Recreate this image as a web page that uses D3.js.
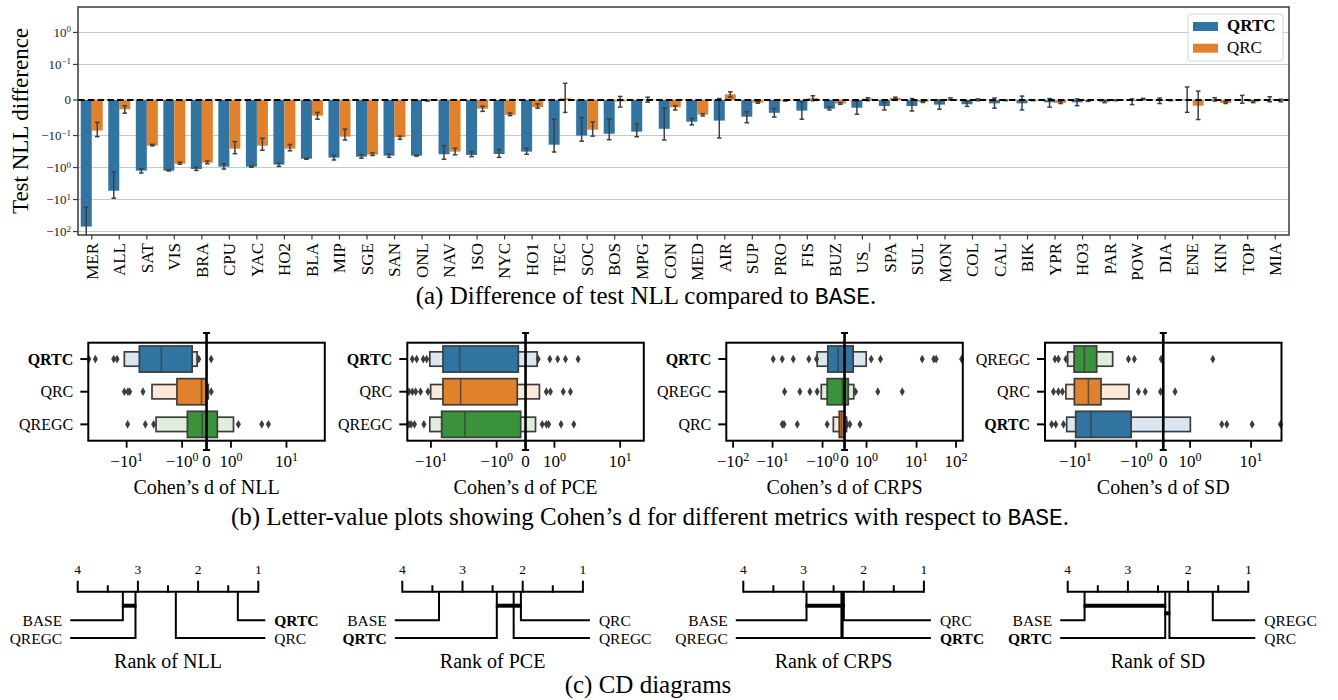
<!DOCTYPE html>
<html><head><meta charset="utf-8">
<script src="https://cdn.jsdelivr.net/npm/d3@7"></script>
<style>
body{margin:0;background:#fff;}
svg{display:block;font-family:"Liberation Serif","Times New Roman",serif;}
</style></head><body>
<svg id="c" width="1338" height="700"></svg>
<script>
// ---------------- DATA ----------------
const topCats = ["MER","ALL","SAT","VIS","BRA","CPU","YAC","HO2","BLA","MIP","SGE","SAN","ONL","NAV","ISO","NYC","HO1","TEC","SOC","BOS","MPG","CON","MED","AIR","SUP","PRO","FIS","BUZ","US_","SPA","SUL","MON","COL","CAL","BIK","YPR","HO3","PAR","POW","DIA","ENE","KIN","TOP","MIA"];
const qrtcDiff = [-70,-5.3,-1.25,-1.25,-1.11,-0.94,-0.94,-0.81,-0.53,-0.49,-0.457,-0.426,-0.426,-0.385,-0.405,-0.377,-0.318,-0.193,-0.100,-0.095,-0.089,-0.081,-0.061,-0.058,-0.047,-0.036,-0.030,-0.0245,-0.0217,-0.017,-0.017,-0.013,-0.012,-0.0094,-0.0094,-0.0066,-0.0066,-0.0047,-0.002,-0.001,0.001,0.0015,-0.001,0.001];
const qrtcLo = [-200,-9.1,-1.48,-1.28,-1.23,-1.11,-0.98,-0.92,-0.55,-0.58,-0.51,-0.48,-0.44,-0.55,-0.457,-0.48,-0.385,-0.327,-0.15,-0.135,-0.109,-0.138,-0.070,-0.119,-0.064,-0.048,-0.054,-0.028,-0.040,-0.028,-0.031,-0.026,-0.018,-0.023,-0.028,-0.020,-0.016,-0.0075,-0.013,-0.010,-0.0347,-0.003,-0.009,-0.005];
const qrtcHi = [-17.4,-1.34,-1.09,-1.17,-0.98,-0.76,-0.89,-0.72,-0.51,-0.42,-0.40,-0.38,-0.41,-0.207,-0.32,-0.27,-0.25,-0.054,-0.050,-0.054,-0.067,-0.023,-0.0515,0.004,-0.033,-0.024,-0.005,-0.020,-0.003,-0.0065,0.004,0.0,-0.0037,0.0056,0.011,0.004,0.003,-0.001,0.003,0.0056,0.0365,0.0065,0.013,0.009];
const qrcDiff = [-0.086,-0.026,-0.207,-0.76,-0.70,-0.257,-0.207,-0.257,-0.044,-0.108,-0.396,-0.113,-0.002,-0.318,-0.0245,-0.042,-0.020,0.0047,-0.0835,-0.004,0.001,-0.0206,-0.041,0.016,-0.0075,-0.002,0.005,-0.010,0.004,0.0056,-0.005,0.003,0.001,-0.001,-0.001,-0.0084,-0.003,-0.001,0.003,-0.001,-0.016,-0.0084,-0.005,-0.002];
const qrcLo = [-0.108,-0.037,-0.21,-0.79,-0.76,-0.369,-0.288,-0.30,-0.054,-0.138,-0.42,-0.131,-0.003,-0.40,-0.032,-0.044,-0.023,-0.035,-0.104,-0.020,-0.006,-0.028,-0.045,0.0084,-0.009,-0.003,-0.002,-0.012,-0.002,0.003,-0.007,0.0,-0.002,-0.002,-0.002,-0.010,-0.004,-0.002,0.001,-0.002,-0.055,-0.010,-0.0075,-0.005];
const qrcHi = [-0.063,-0.016,-0.188,-0.68,-0.63,-0.155,-0.122,-0.19,-0.035,-0.082,-0.35,-0.104,-0.001,-0.25,-0.0177,-0.0366,-0.011,0.047,-0.062,0.010,0.008,-0.016,-0.0385,0.023,-0.005,-0.001,0.012,-0.0075,0.0065,0.008,-0.003,0.006,0.003,0.0,0.0,-0.004,-0.002,0.0,0.0047,0.0,0.025,-0.005,-0.002,0.002];
const topYTicks = [-100,-10,-1,-0.1,0,0.1,1];
const seriesNames = ["QRTC","QRC"];

// letter-value summaries (outer level, inner level = quartile box, median, outliers)
const lvNLL = [
  {m:"QRTC", outer:[-11.0,-0.386], inner:[-5.9,-0.59], med:-2.37, out:[-48,-36.6,-17.1,-14.9,-0.32,0.19]},
  {m:"QRC", outer:[-3.49,0.07], inner:[-1.24,-0.014], med:-0.207, out:[-11,-9.5,-8.8,-5.07,0.19]},
  {m:"QREGC", outer:[-2.95,1.11], inner:[-0.785,0.44], med:-0.179, out:[-9.6,-4.6,-3.26,1.36,3.59,4.73]}
];
const lvPCE = [
  {m:"QRTC", outer:[-10.4,0.40], inner:[-6.56,-0.25], med:-3.66, out:[-19.2,-16.5,-13.1,-11.6,0.437,0.84,1.12,1.47,2.29]},
  {m:"QRC", outer:[-10.1,0.48], inner:[-6.56,-0.287], med:-3.53, out:[-21.6,-19.2,-17.1,-14.4,-11.1,0.72,0.86,1.36,1.75]},
  {m:"QREGC", outer:[-10.4,0.345], inner:[-6.87,-0.17], med:-3.04, out:[-21.6,-20,-17.8,-12.8,0.575,0.72,0.80,1.26,1.97]}
];
const lvCRPS = [
  {m:"QRTC", outer:[-1.28,0.985], inner:[-0.76,0.39], med:-0.29, out:[-9.7,-6.4,-3.85,-1.88,-1.32,1.24,1.9,13.9,27.4,31.4,138]},
  {m:"QREGC", outer:[-1.06,0.42], inner:[-0.79,0.17], med:-0.1, out:[-5.75,-2.84,-1.79,-1.28,0.5,1.68,5.17]},
  {m:"QRC", outer:[-0.51,0.09], inner:[-0.24,-0.03], med:-0.14, out:[-6.4,-5.9,-3.2,-0.79,0.12,0.24,0.7]}
];
const lvSD = [
  {m:"QREGC", outer:[-13.4,-2.45], inner:[-10.5,-4.48], med:-7.13, out:[-21.6,-19,-14.3,-1.35,-1.08,-0.076,2.36]},
  {m:"QRC", outer:[-14.3,-1.32], inner:[-10.4,-3.8], med:-6.12, out:[-22.9,-19,-16.3,-0.925,-0.67,-0.1,0.44]},
  {m:"QRTC", outer:[-13.9,1.01], inner:[-9.9,-1.22], med:-5.55, out:[-24.5,-21,-15.7,3.31,4.0,10.4,30.3]}
];
const lvTicksShort = [-10,-1,0,1,10];
const lvTicksLong = [-100,-10,-1,0,1,10,100];

// CD diagram average ranks and cliques
const cdNLL = [["QRTC",1.34],["QRC",2.37],["QREGC",3.04],["BASE",3.25]];
const cdPCE = [["QRC",2.03],["QREGC",2.15],["QRTC",2.43],["BASE",3.39]];
const cdCRPS = [["QRC",2.33],["QRTC",2.35],["QREGC",2.37],["BASE",2.95]];
const cdSD = [["QREGC",1.59],["QRC",2.31],["QRTC",2.38],["BASE",3.72]];
const cliquesNLL = [["BASE","QREGC"]];
const cliquesPCE = [["QRTC","QRC"]];
const cliquesCRPS = [["BASE","QRC"]];
const cliquesSD = [["BASE","QRTC"],["QRTC","QRC"]];
const rankTicks = [4,3.5,3,2.5,2,1.5,1];

// ---------------- STYLE ----------------
const colMain = {QRTC:"#3274a1", QRC:"#e1812c", QREGC:"#3a923a"};
const colLight = {QRTC:"#dae6f0", QRC:"#fce8d6", QREGC:"#dfeedf"};
const svg = d3.select("#c");
svg.append("rect").attr("width",1338).attr("height",700).attr("fill","#fff");
const MINUS = "\u2212";

function powLabel(sel, v, supSize){
  if (v === 0){ sel.text("0"); return; }
  const e = Math.round(Math.log10(Math.abs(v)));
  sel.append("tspan").text((v<0?MINUS:"")+"10");
  sel.append("tspan").attr("dy","-0.5em").attr("font-size",supSize).text(e<0?MINUS+(-e):String(e));
}

// ---------------- (a) TOP BAR CHART ----------------
const A = {x0:78, x1:1289, y0:7, y1:235};
const topLin = 0.1, topScaleAdj = 1/(1-1/10);
const topT = v => { const s=Math.sign(v), a=Math.abs(v); return a<=topLin ? v/topLin*topScaleAdj : s*(topScaleAdj+Math.log10(a/topLin)); };
const yLin = d3.scaleLinear().domain([-4.219, 2.906]).range([A.y1, A.y0]);
const y = v => yLin(topT(v));
const x = d3.scaleBand().domain(topCats).range([A.x0, A.x1]).padding(0);
const bw = x.bandwidth();

const gA = svg.append("g");
svg.append("clipPath").attr("id","clipA").append("rect")
  .attr("x",A.x0).attr("y",A.y0).attr("width",A.x1-A.x0).attr("height",A.y1-A.y0);

// grid
gA.selectAll("line.grid").data(topYTicks).join("line")
  .attr("x1",A.x0).attr("x2",A.x1).attr("y1",d=>y(d)).attr("y2",d=>y(d))
  .attr("stroke","#c8c8c8").attr("stroke-width",1.1);

const plotA = gA.append("g").attr("clip-path","url(#clipA)");
const series = [
  {name:"QRTC", vals:qrtcDiff, lo:qrtcLo, hi:qrtcHi, off:0.1},
  {name:"QRC", vals:qrcDiff, lo:qrcLo, hi:qrcHi, off:0.5}
];
series.forEach(s=>{
  plotA.append("g").selectAll("rect").data(topCats).join("rect")
    .attr("x",(c)=>x(c)+s.off*bw).attr("width",0.4*bw)
    .attr("y",(c,i)=>Math.min(y(0),y(s.vals[i])))
    .attr("height",(c,i)=>Math.abs(y(s.vals[i])-y(0)))
    .attr("fill",colMain[s.name]);
});
series.forEach(s=>{
  const g = plotA.append("g").attr("stroke","#404040").attr("stroke-width",1.5);
  topCats.forEach((c,i)=>{
    const cx = x(c)+(s.off+0.2)*bw;
    const ya = y(s.lo[i]), yb = y(s.hi[i]);
    g.append("line").attr("x1",cx).attr("x2",cx).attr("y1",ya).attr("y2",yb);
    g.append("line").attr("x1",cx-2.3).attr("x2",cx+2.3).attr("y1",ya).attr("y2",ya);
    g.append("line").attr("x1",cx-2.3).attr("x2",cx+2.3).attr("y1",yb).attr("y2",yb);
  });
});
// zero dashed line
gA.append("line").attr("x1",A.x0).attr("x2",A.x1).attr("y1",y(0)).attr("y2",y(0))
  .attr("stroke","#000").attr("stroke-width",2).attr("stroke-dasharray","6.5,3.3");
// frame
gA.append("rect").attr("x",A.x0).attr("y",A.y0).attr("width",A.x1-A.x0).attr("height",A.y1-A.y0)
  .attr("fill","none").attr("stroke","#3a3a3a").attr("stroke-width",1.5);
// y ticks
topYTicks.forEach(t=>{
  gA.append("line").attr("x1",A.x0-5).attr("x2",A.x0).attr("y1",y(t)).attr("y2",y(t)).attr("stroke","#3a3a3a").attr("stroke-width",1.2);
  const tx = gA.append("text").attr("x",A.x0-7).attr("y",y(t)+4.5).attr("text-anchor","end").attr("font-size",13).attr("fill","#222");
  powLabel(tx,t,9);
});
// x ticks
topCats.forEach(c=>{
  const cx = x(c)+bw/2;
  gA.append("line").attr("x1",cx).attr("x2",cx).attr("y1",A.y1).attr("y2",A.y1+4.5).attr("stroke","#3a3a3a").attr("stroke-width",1.2);
  gA.append("text").attr("transform",`translate(${cx+5.8},${A.y1+8}) rotate(-90)`)
    .attr("text-anchor","end").attr("font-size",17).text(c);
});
gA.append("text").attr("transform",`translate(28,${(A.y0+A.y1)/2}) rotate(-90)`)
  .attr("text-anchor","middle").attr("font-size",23).text("Test NLL difference");
// legend
const lg = gA.append("g");
lg.append("rect").attr("x",1188).attr("y",14).attr("width",95).attr("height",47).attr("rx",3)
  .attr("fill","#fff").attr("fill-opacity",0.9).attr("stroke","#d4d4d4").attr("stroke-width",1);
seriesNames.forEach((n,i)=>{
  lg.append("rect").attr("x",1193).attr("y",22+i*21.7).attr("width",25).attr("height",9).attr("fill",colMain[n]);
  lg.append("text").attr("x",1227).attr("y",31+i*21.7).attr("font-size",17)
    .attr("font-weight",n==="QRTC"?"bold":"normal").text(n);
});
// caption (a)
const capA = svg.append("text").attr("x",646).attr("y",304).attr("text-anchor","middle").attr("font-size",25);
capA.append("tspan").text("(a) Difference of test NLL compared to ");
capA.append("tspan").attr("font-family","Liberation Mono, monospace").attr("font-size",23).text("BASE");
capA.append("tspan").text(".");

// ---------------- (b) LETTER-VALUE PLOTS ----------------
const lvPanels = [
  {data:lvNLL, label:"NLL", x0:88.3, pxDec:55.5, k:1, ticks:lvTicksShort},
  {data:lvPCE, label:"PCE", x0:407.3, pxDec:65.7, k:1, ticks:lvTicksShort},
  {data:lvCRPS, label:"CRPS", x0:726.3, pxDec:50, k:0.79, ticks:lvTicksLong},
  {data:lvSD, label:"SD", x0:1045, pxDec:61, k:1, ticks:lvTicksShort}
];
const LV = {w:236.5, y0:342.7, y1:440.7, lin:0.44};
lvPanels.forEach(p=>{
  const T = v => { const s=Math.sign(v), a=Math.abs(v);
    if (a<=1) return v*LV.lin;
    if (a<=10) return s*(LV.lin+Math.log10(a));
    return s*(LV.lin+1+p.k*Math.log10(a/10)); };
  const D = (LV.w/2)/p.pxDec;
  const xl = d3.scaleLinear().domain([-D,D]).range([p.x0, p.x0+LV.w]);
  const xs = v => xl(T(v));
  const yb = d3.scaleBand().domain(p.data.map(d=>d.m)).range([LV.y0, LV.y1]);
  const h = yb.bandwidth();
  const g = svg.append("g");
  p.data.forEach(d=>{
    const cy = yb(d.m)+h/2;
    const hOut = 0.44*h, hIn = 0.8*h;
    g.append("rect").attr("x",xs(d.outer[0])).attr("width",xs(d.outer[1])-xs(d.outer[0]))
      .attr("y",cy-hOut/2).attr("height",hOut).attr("fill",colLight[d.m]).attr("stroke","#3d3d3d").attr("stroke-width",1.7);
    g.append("rect").attr("x",xs(d.inner[0])).attr("width",xs(d.inner[1])-xs(d.inner[0]))
      .attr("y",cy-hIn/2).attr("height",hIn).attr("fill",colMain[d.m]).attr("stroke","#3d3d3d").attr("stroke-width",1.7);
    g.append("line").attr("x1",xs(d.med)).attr("x2",xs(d.med)).attr("y1",cy-hIn/2).attr("y2",cy+hIn/2)
      .attr("stroke","#3d3d3d").attr("stroke-opacity",0.75).attr("stroke-width",1.6);
    g.selectAll(null).data(d.out).join("path")
      .attr("d",d3.symbol(d3.symbolDiamond,22))
      .attr("transform",v=>`translate(${xs(v)},${cy})`).attr("fill","#3d3d3d");
    // y tick + label
    g.append("line").attr("x1",p.x0-8).attr("x2",p.x0).attr("y1",cy).attr("y2",cy).attr("stroke","#000").attr("stroke-width",2);
    g.append("text").attr("x",p.x0-15).attr("y",cy+5.5).attr("text-anchor","end").attr("font-size",16)
      .attr("font-weight",d.m==="QRTC"?"bold":"normal").text(d.m);
  });
  // frame
  g.append("rect").attr("x",p.x0).attr("y",LV.y0).attr("width",LV.w).attr("height",LV.y1-LV.y0)
    .attr("fill","none").attr("stroke","#000").attr("stroke-width",2);
  // zero line with caps
  const zx = xs(0);
  g.append("line").attr("x1",zx).attr("x2",zx).attr("y1",333).attr("y2",450).attr("stroke","#000").attr("stroke-width",2.6);
  [333,450].forEach(yy=>g.append("line").attr("x1",zx-3.5).attr("x2",zx+3.5).attr("y1",yy).attr("y2",yy).attr("stroke","#000").attr("stroke-width",2));
  // x ticks
  p.ticks.forEach(t=>{
    g.append("line").attr("x1",xs(t)).attr("x2",xs(t)).attr("y1",LV.y1).attr("y2",LV.y1+7).attr("stroke","#000").attr("stroke-width",1.8);
    const tx = g.append("text").attr("x",xs(t)).attr("y",467).attr("text-anchor","middle").attr("font-size",17);
    powLabel(tx,t,12);
  });
  g.append("text").attr("x",p.x0+LV.w/2).attr("y",494).attr("text-anchor","middle").attr("font-size",20)
    .text("Cohen\u2019s d of "+p.label);
});
const capB = svg.append("text").attr("x",650).attr("y",525).attr("text-anchor","middle").attr("font-size",25);
capB.append("tspan").text("(b) Letter-value plots showing Cohen\u2019s d for different metrics with respect to ");
capB.append("tspan").attr("font-family","Liberation Mono, monospace").attr("font-size",23).text("BASE");
capB.append("tspan").text(".");

// ---------------- (c) CD DIAGRAMS ----------------
const cdPanels = [
  {ranks:cdNLL, cliques:cliquesNLL, label:"NLL", x4:77.7},
  {ranks:cdPCE, cliques:cliquesPCE, label:"PCE", x4:402.3},
  {ranks:cdCRPS, cliques:cliquesCRPS, label:"CRPS", x4:743.3},
  {ranks:cdSD, cliques:cliquesSD, label:"SD", x4:1067.7}
];
const CD = {axisY:591.7, rowY:[620.3,638], cliqueY:[605.7,613.3], span:180.6};
cdPanels.forEach(p=>{
  const xr = d3.scaleLinear().domain([4,1]).range([p.x4, p.x4+CD.span]);
  const g = svg.append("g").attr("stroke-linecap","butt");
  g.append("line").attr("x1",xr(4)).attr("x2",xr(1)).attr("y1",CD.axisY).attr("y2",CD.axisY).attr("stroke","#000").attr("stroke-width",2);
  rankTicks.forEach(r=>{
    const major = Number.isInteger(r);
    g.append("line").attr("x1",xr(r)).attr("x2",xr(r)).attr("y1",CD.axisY+1).attr("y2",CD.axisY-(major?11:6.5)).attr("stroke","#000").attr("stroke-width",2);
    if (major) g.append("text").attr("x",xr(r)).attr("y",574).attr("text-anchor","middle").attr("font-size",13.5).text(r);
  });
  const sorted = p.ranks.slice().sort((a,b)=>a[1]-b[1]);
  const right = sorted.slice(0,2);
  const left = sorted.slice(2).reverse();
  const rmap = Object.fromEntries(p.ranks);
  p.cliques.forEach((c,i)=>{
    const a = xr(rmap[c[0]]), b = xr(rmap[c[1]]);
    g.append("line").attr("x1",Math.min(a,b)-1).attr("x2",Math.max(a,b)+1).attr("y1",CD.cliqueY[i]).attr("y2",CD.cliqueY[i])
      .attr("stroke","#000").attr("stroke-width",4);
  });
  const drawSide = (arr, side)=>{
    arr.forEach((d,i)=>{
      const xx = xr(d[1]), yy = CD.rowY[i];
      const endX = side==="left" ? xr(4)-7.5 : xr(1)+7;
      g.append("path").attr("d",`M${xx},${CD.axisY}V${yy}H${endX}`).attr("fill","none").attr("stroke","#000").attr("stroke-width",2);
      g.append("text").attr("x",side==="left"?endX-8:endX+9).attr("y",yy+5.5)
        .attr("text-anchor",side==="left"?"end":"start").attr("font-size",15.5)
        .attr("font-weight",d[0]==="QRTC"?"bold":"normal").text(d[0]);
    });
  };
  drawSide(left,"left");
  drawSide(right,"right");
  g.append("text").attr("x",xr(2.5)).attr("y",668).attr("text-anchor","middle").attr("font-size",20).text("Rank of "+p.label);
});
svg.append("text").attr("x",648).attr("y",693).attr("text-anchor","middle").attr("font-size",25).text("(c) CD diagrams");
</script></body></html>
